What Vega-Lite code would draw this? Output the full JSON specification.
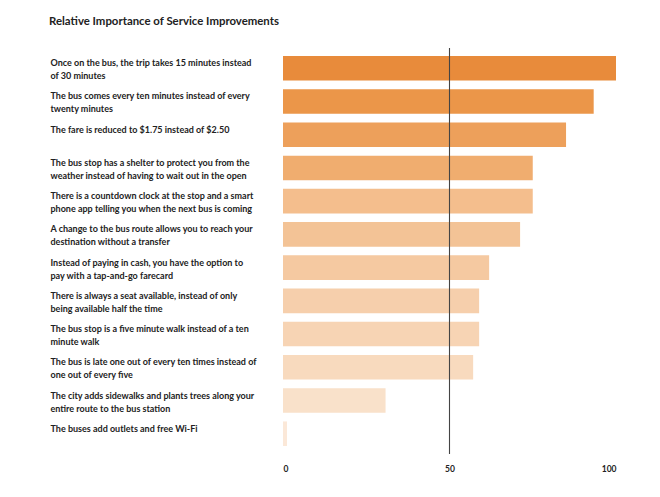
{
  "$schema": "https://vega.github.io/schema/vega-lite/v6.json",
  "autosize": {"type": "none"},
  "width": 333,
  "height": 406,
  "padding": {"left": 283, "top": 48, "right": 44, "bottom": 43},
  "background": "white",
  "title": {
    "text": "Relative Importance of Service Improvements",
    "anchor": "start",
    "frame": "group",
    "dx": -234,
    "fontSize": 11.4,
    "font": "Lato",
    "fontWeight": "bold",
    "color": "#222222",
    "offset": 20
  },
  "config": {
    "view": {"stroke": null},
    "font": "Lato"
  },
  "data": {
    "values": [
      {"rank": 1, "item": "Once on the bus, the trip takes 15 minutes instead\nof 30 minutes", "value": 100},
      {"rank": 2, "item": "The bus comes every ten minutes instead of every\ntwenty minutes", "value": 93.3},
      {"rank": 3, "item": "The fare is reduced to $1.75 instead of $2.50", "value": 85},
      {"rank": 4, "item": "The bus stop has a shelter to protect you from the\nweather instead of having to wait out in the open", "value": 75},
      {"rank": 5, "item": "There is a countdown clock at the stop and a smart\nphone app telling you when the next bus is coming", "value": 75},
      {"rank": 6, "item": "A change to the bus route allows you to reach your\ndestination without a transfer", "value": 71.2},
      {"rank": 7, "item": "Instead of paying in cash, you have the option to\npay with a tap-and-go farecard", "value": 61.9},
      {"rank": 8, "item": "There is always a seat available, instead of only\nbeing available half the time", "value": 58.9},
      {"rank": 9, "item": "The bus stop is a five minute walk instead of a ten\nminute walk", "value": 58.9},
      {"rank": 10, "item": "The bus is late one out of every ten times instead of\none out of every five", "value": 57.1},
      {"rank": 11, "item": "The city adds sidewalks and plants trees along your\nentire route to the bus station", "value": 30.8},
      {"rank": 12, "item": "The buses add outlets and free Wi-Fi", "value": 1.2}
    ]
  },
  "layer": [
    {
      "mark": {"type": "bar"},
      "encoding": {
        "y": {
          "field": "item",
          "type": "nominal",
          "sort": null,
          "scale": {"paddingInner": 0.26, "paddingOuter": 0.24},
          "axis": {
            "title": null,
            "domain": false,
            "ticks": false,
            "labelAlign": "left",
            "labelBaseline": "top",
            "labelPadding": 233,
            "labelOffset": -9,
            "labelExpr": "split(datum.value, '\\n')",
            "labelLineHeight": 13,
            "labelFontSize": 9,
            "labelFont": "Lato",
            "labelFontWeight": "bold",
            "labelColor": "#222222",
            "labelLimit": 300
          }
        },
        "x": {
          "field": "value",
          "type": "quantitative",
          "scale": {"domain": [0, 100], "nice": false, "clamp": false},
          "axis": {
            "title": null,
            "values": [0, 50, 100],
            "domain": false,
            "ticks": false,
            "grid": false,
            "labelFlush": true,
            "labelPadding": 10,
            "labelFontSize": 8.5,
            "labelFont": "Lato",
            "labelFontWeight": "bold",
            "labelColor": "#222222"
          }
        },
        "color": {
          "field": "rank",
          "type": "ordinal",
          "legend": null,
          "scale": {
            "domain": [1, 2, 3, 4, 5, 6, 7, 8, 9, 10, 11, 12],
            "range": ["#E88B3B", "#EB9649", "#EDA05B", "#F0AD6F", "#F4BE8D", "#F3C396", "#F5C9A1", "#F6CFAC", "#F7D4B4", "#F8DABE", "#F9E1CA", "#FBE8D8"]
          }
        }
      }
    },
    {
      "data": {"values": [{"ref": 50}]},
      "mark": {"type": "rule", "color": "#444444", "strokeWidth": 1.1},
      "encoding": {
        "x": {"field": "ref", "type": "quantitative"}
      }
    }
  ]
}
